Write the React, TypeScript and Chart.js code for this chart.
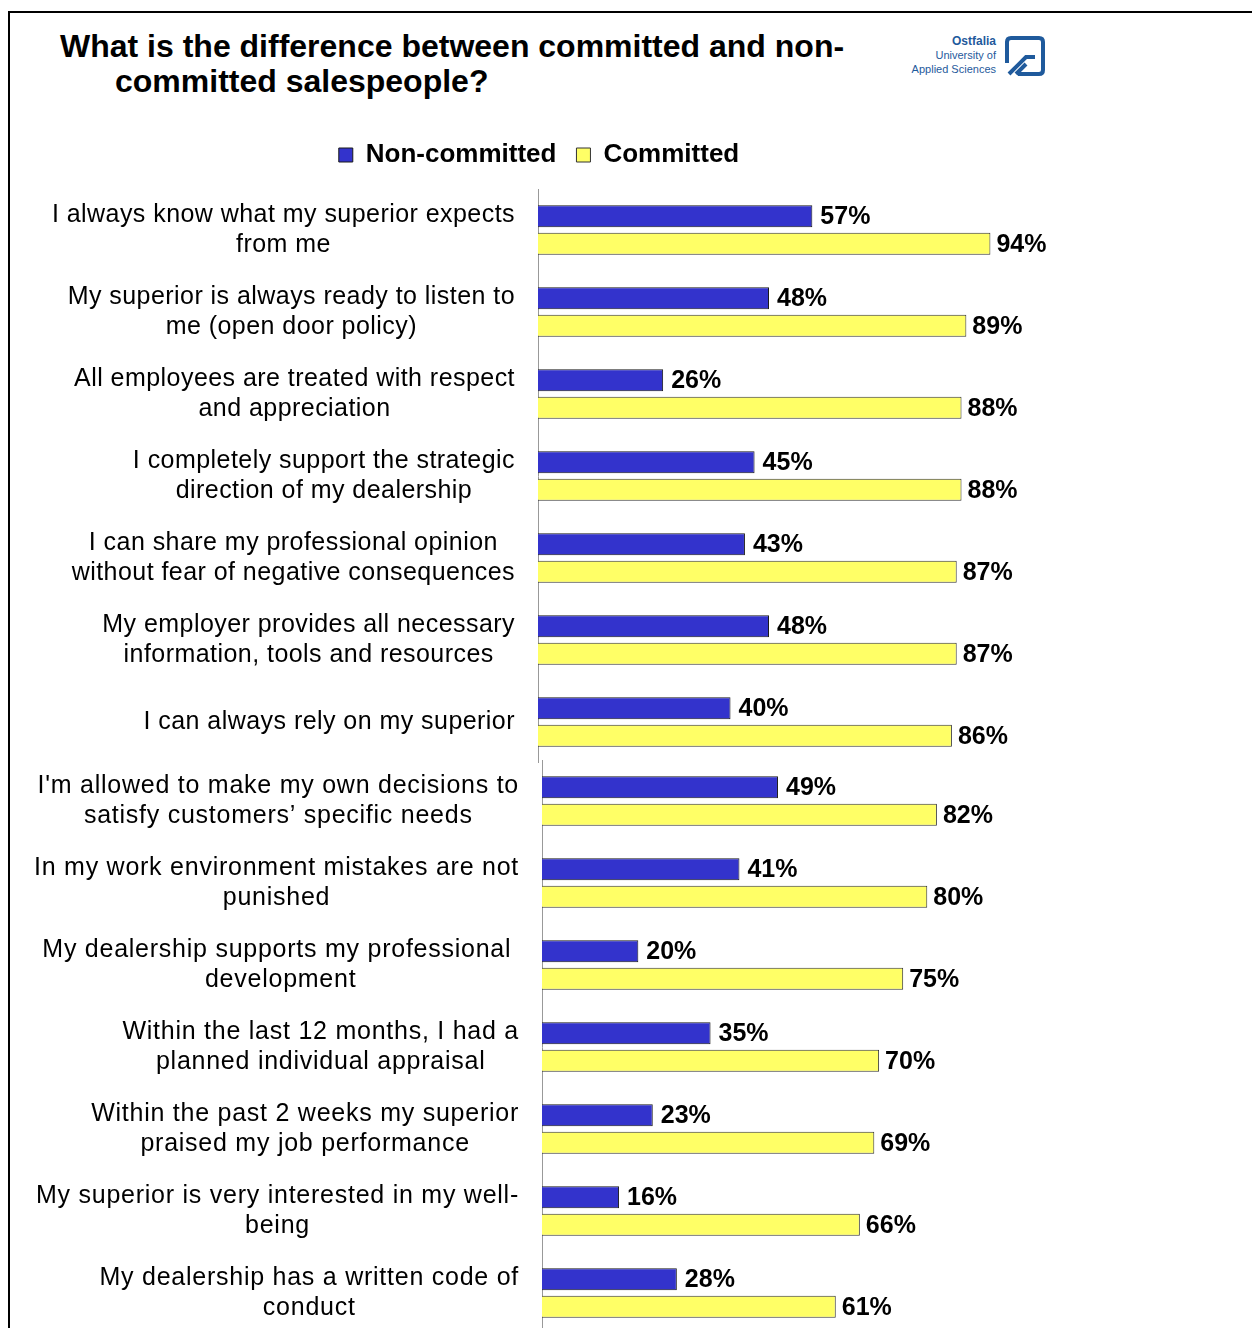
import React, { useEffect, useRef } from "react";
import { Chart, registerables } from "chart.js";

Chart.register(...registerables);

const FONT = '"Liberation Sans", Arial, sans-serif';

const seriesNames = ["Non-committed", "Committed"];

const categoriesA: string[][] = [
  ["I always know what my superior expects", "from me"],
  ["My superior is always ready to listen to", "me (open door policy)"],
  ["All employees are treated with respect", "and appreciation"],
  ["I completely support the strategic", "direction of my dealership"],
  ["I can share my professional opinion", "without fear of negative consequences"],
  ["My employer provides all necessary", "information, tools and resources"],
  ["I can always rely on my superior"],
];
const nonCommittedA = [57, 48, 26, 45, 43, 48, 40];
const committedA = [94, 89, 88, 88, 87, 87, 86];

const categoriesB: string[][] = [
  ["I'm allowed to make my own decisions to", "satisfy customers\u2019 specific needs"],
  ["In my work environment mistakes are not", "punished"],
  ["My dealership supports my professional ", "development"],
  ["Within the last 12 months, I had a", "planned individual appraisal"],
  ["Within the past 2 weeks my superior", "praised my job performance"],
  ["My superior is very interested in my well-", "being"],
  ["My dealership has a written code of", "conduct"],
];
const nonCommittedB = [49, 41, 20, 35, 23, 16, 28];
const committedB = [82, 80, 75, 70, 69, 66, 61];

const BLUE = "#3333CC";
const YELLOW = "#FFFF66";

function makeCategoryLabelPlugin(spacing: string) {
  return {
    id: "categoryLabels",
    afterDraw(chart: any) {
      const ctx = chart.ctx;
      const yScale = chart.scales.y;
      const right = chart.chartArea.left - 23;
      ctx.save();
      ctx.font = `25px ${FONT}`;
      (ctx as any).letterSpacing = spacing;
      ctx.fillStyle = "#000";
      ctx.textAlign = "center";
      ctx.textBaseline = "middle";
      (chart.data.labels as string[][]).forEach((lines, i) => {
        const cy = yScale.getPixelForValue(i);
        const w = Math.max(...lines.map((l) => ctx.measureText(l).width));
        const cx = right - w / 2;
        lines.forEach((l, j) => {
          ctx.fillText(l, cx, cy + (j - (lines.length - 1) / 2) * 30);
        });
      });
      ctx.restore();
    },
  };
}

const valueLabelPlugin = {
  id: "valueLabels",
  afterDatasetsDraw(chart: any) {
    const ctx = chart.ctx;
    ctx.save();
    ctx.font = `bold 25px ${FONT}`;
    ctx.fillStyle = "#000";
    ctx.textAlign = "left";
    ctx.textBaseline = "middle";
    chart.data.datasets.forEach((ds: any, di: number) => {
      const meta = chart.getDatasetMeta(di);
      meta.data.forEach((bar: any, i: number) => {
        ctx.fillText(`${ds.data[i]}%`, bar.x + (di === 0 ? 8 : 6), bar.y + 1);
      });
    });
    ctx.restore();
  },
};

const legendMarginPlugin = {
  id: "legendMargin",
  beforeInit(chart: any) {
    if (!chart.legend) return;
    const origFit = chart.legend.fit;
    chart.legend.fit = function () {
      origFit.bind(chart.legend)();
      if (this.options && this.options.display) this.height += 11;
    };
  },
};

function makeConfig(
  labels: string[][],
  nonCommitted: number[],
  committed: number[],
  axisX: number,
  xMax: number,
  showLegend: boolean,
  spacing: string
): any {
  return {
    type: "bar",
    data: {
      labels,
      datasets: [
        {
          label: seriesNames[0],
          data: nonCommitted,
          backgroundColor: BLUE,
          borderColor: "#1a1a1a",
          borderWidth: 1,
          borderSkipped: "start",
          categoryPercentage: 0.67,
          barPercentage: 0.8,
        },
        {
          label: seriesNames[1],
          data: committed,
          backgroundColor: YELLOW,
          borderColor: "#333",
          borderWidth: 1,
          borderSkipped: "start",
          categoryPercentage: 0.67,
          barPercentage: 0.8,
        },
      ],
    },
    options: {
      indexAxis: "y",
      responsive: false,
      animation: false,
      layout: { padding: 0 },
      plugins: {
        legend: {
          display: showLegend,
          position: "top",
          labels: {
            font: { family: FONT, size: 26, weight: "bold" },
            color: "#000",
            boxWidth: 14,
            boxHeight: 14,
            padding: 20,
          },
        },
        tooltip: { enabled: false },
      },
      scales: {
        x: { display: false, min: 0, max: xMax },
        y: {
          display: true,
          ticks: { display: false },
          grid: { display: false, drawTicks: false },
          border: { display: true, color: "#999", width: 1 },
          afterFit: (s: any) => {
            s.width = axisX;
          },
        },
      },
    },
    plugins: [legendMarginPlugin, makeCategoryLabelPlugin(spacing), valueLabelPlugin],
  };
}

function BarPanel(props: {
  labels: string[][];
  nonCommitted: number[];
  committed: number[];
  axisX: number;
  xMax: number;
  showLegend: boolean;
  spacing: string;
  top: number;
  height: number;
}) {
  const ref = useRef<HTMLCanvasElement | null>(null);
  useEffect(() => {
    if (!ref.current) return;
    const chart = new Chart(
      ref.current,
      makeConfig(
        props.labels,
        props.nonCommitted,
        props.committed,
        props.axisX,
        props.xMax,
        props.showLegend,
        props.spacing
      )
    );
    return () => chart.destroy();
  }, []);
  return (
    <canvas
      ref={ref}
      width={1078}
      height={props.height}
      style={{ position: "absolute", left: 0, top: props.top, width: 1078, height: props.height }}
    />
  );
}

export default function App() {
  const logoBlue = "#1f5a9c";
  return (
    <div style={{ position: "fixed", left: 0, top: 0, width: 1252, height: 1328, overflow: "hidden", background: "#fff" }}>
      <div
        style={{
          position: "absolute",
          left: 8,
          top: 11,
          width: 1400,
          height: 1500,
          borderTop: "2px solid #000",
          borderLeft: "2px solid #000",
        }}
      />
      <div
        style={{
          position: "absolute",
          left: 60,
          top: 29,
          fontFamily: FONT,
          fontWeight: "bold",
          fontSize: 32,
          lineHeight: "35px",
          color: "#000",
          whiteSpace: "nowrap",
        }}
      >
        <div>What is the difference between committed and non-</div>
        <div style={{ paddingLeft: 55 }}>committed salespeople?</div>
      </div>
      <div
        style={{
          position: "absolute",
          right: 1252 - 996,
          top: 34,
          fontFamily: FONT,
          color: logoBlue,
          textAlign: "right",
          fontSize: 11,
          lineHeight: "14px",
          whiteSpace: "nowrap",
        }}
      >
        <div style={{ fontWeight: "bold", fontSize: 12 }}>Ostfalia</div>
        <div>University of</div>
        <div>Applied Sciences</div>
      </div>
      <svg width="42" height="42" viewBox="0 0 42 42" style={{ position: "absolute", left: 1004, top: 35 }}>
        <path
          d="M3 28 V7 Q3 3 7 3 H35 Q39 3 39 7 V35 Q39 39 35 39 H14"
          fill="none"
          stroke={logoBlue}
          strokeWidth="4"
        />
        <path d="M5 39 L22 22 H31" fill="none" stroke={logoBlue} strokeWidth="4" />
        <path d="M12 39 L22 29" fill="none" stroke={logoBlue} strokeWidth="4" />
      </svg>
      <BarPanel
        labels={categoriesA}
        nonCommitted={nonCommittedA}
        committed={committedA}
        axisX={538}
        xMax={112.2}
        showLegend={true}
        spacing="0.45px"
        top={122}
        height={641}
      />
      <BarPanel
        labels={categoriesB}
        nonCommitted={nonCommittedB}
        committed={committedB}
        axisX={542}
        xMax={111.3}
        showLegend={false}
        spacing="0.75px"
        top={760}
        height={574}
      />
    </div>
  );
}
